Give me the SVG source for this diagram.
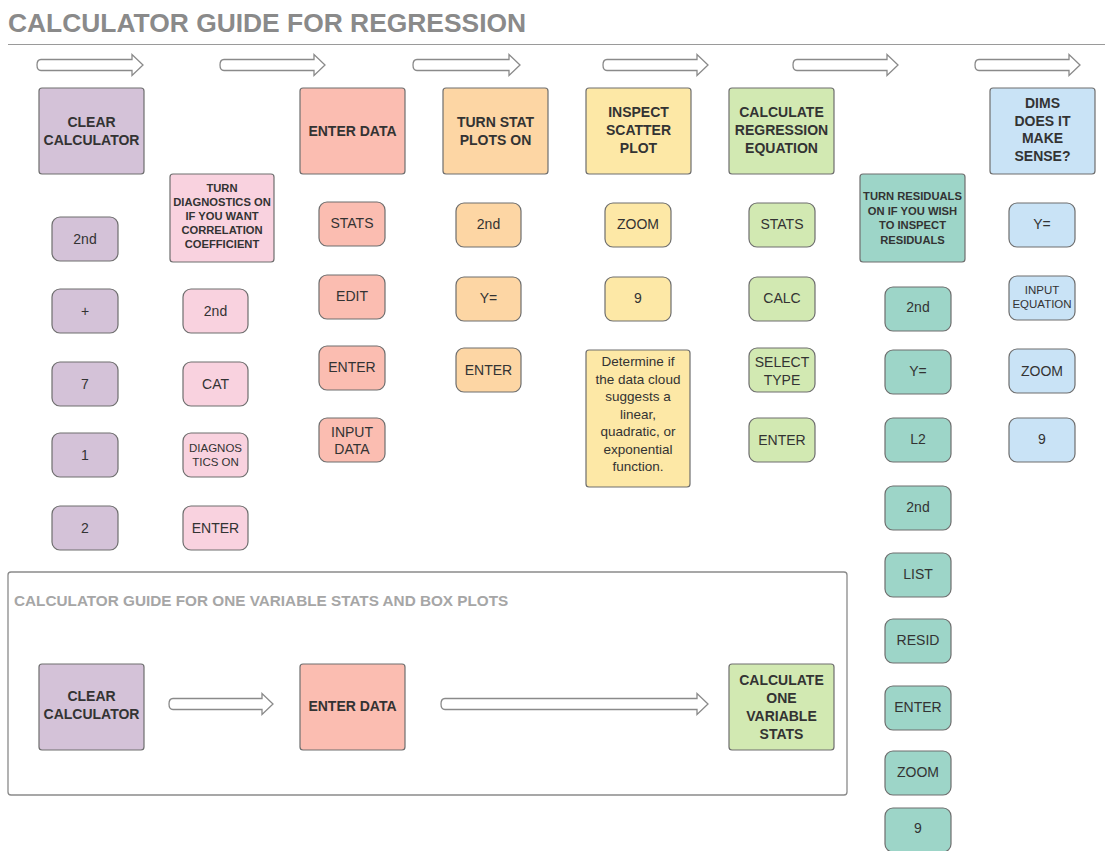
<svg xmlns="http://www.w3.org/2000/svg" width="1105" height="851" viewBox="0 0 1105 851">
<style>
text{font-family:"Liberation Sans",Arial,sans-serif;fill:#333;text-anchor:middle;dominant-baseline:central}
.h{font-weight:bold;font-size:14px}
.hs{font-weight:bold;font-size:11.2px}
.k{font-size:14px}
.ks{font-size:11.5px}
.d{font-size:13.5px}
.big{stroke:#6e6e6e;stroke-width:1.2}
.key{stroke:#6e6e6e;stroke-width:1.2}
.pu{fill:#d4c2d8}.sa{fill:#fbbdb1}.or{fill:#fdd6a4}.ye{fill:#fde8a6}.gr{fill:#d2e9b2}.bl{fill:#c9e3f6}.pi{fill:#f9d2df}.te{fill:#9dd5c8}
.arr{fill:#fff;stroke:#8a8a8a;stroke-width:1.3}
</style>
<defs>
<path id="ah" d="M0,-5.5 L-11,-5.5 L-11,-10.5 L0,0 L-11,10.5 L-11,5.5 L0,5.5"/>
</defs>
<text x="8" y="23" style="font-size:26.4px;font-weight:bold;fill:#8a8a8a;text-anchor:start">CALCULATOR GUIDE FOR REGRESSION</text>
<line x1="8" y1="44.5" x2="1105" y2="44.5" stroke="#9a9a9a" stroke-width="1.2"/>

<g id="connectors">
<path class="arr" d="M41,59.5 L132,59.5 L132,54.5 L143,65 L132,75.5 L132,70.5 L41,70.5 Q37,70.5 37,65 Q37,59.5 41,59.5 Z"/>
<path class="arr" d="M224,59.5 L314,59.5 L314,54.5 L325,65 L314,75.5 L314,70.5 L224,70.5 Q220,70.5 220,65 Q220,59.5 224,59.5 Z"/>
<path class="arr" d="M417,59.5 L509,59.5 L509,54.5 L520,65 L509,75.5 L509,70.5 L417,70.5 Q413,70.5 413,65 Q413,59.5 417,59.5 Z"/>
<path class="arr" d="M607,59.5 L697,59.5 L697,54.5 L708,65 L697,75.5 L697,70.5 L607,70.5 Q603,70.5 603,65 Q603,59.5 607,59.5 Z"/>
<path class="arr" d="M797,59.5 L887,59.5 L887,54.5 L898,65 L887,75.5 L887,70.5 L797,70.5 Q793,70.5 793,65 Q793,59.5 797,59.5 Z"/>
<path class="arr" d="M979,59.5 L1069,59.5 L1069,54.5 L1080,65 L1069,75.5 L1069,70.5 L979,70.5 Q975,70.5 975,65 Q975,59.5 979,59.5 Z"/>
<path class="arr" d="M173,698.5 L262,698.5 L262,693.5 L273,704 L262,714.5 L262,709.5 L173,709.5 Q169,709.5 169,704 Q169,698.5 173,698.5 Z"/>
<path class="arr" d="M445,698.5 L697,698.5 L697,693.5 L708,704 L697,714.5 L697,709.5 L445,709.5 Q441,709.5 441,704 Q441,698.5 445,698.5 Z"/>
</g>

<g id="n-clear"><rect class="big pu" x="39" y="88" width="105" height="86" rx="3"/><text class="h" x="91.5" y="122">CLEAR</text><text class="h" x="91.5" y="140">CALCULATOR</text></g>
<g id="n-enter"><rect class="big sa" x="300" y="88" width="105" height="86" rx="3"/><text class="h" x="352.5" y="131">ENTER DATA</text></g>
<g id="n-statplots"><rect class="big or" x="443" y="88" width="105" height="86" rx="3"/><text class="h" x="495.5" y="122">TURN STAT</text><text class="h" x="495.5" y="140">PLOTS ON</text></g>
<g id="n-scatter"><rect class="big ye" x="586" y="88" width="105" height="86" rx="3"/><text class="h" x="638.5" y="112">INSPECT</text><text class="h" x="638.5" y="130">SCATTER</text><text class="h" x="638.5" y="148">PLOT</text></g>
<g id="n-regeq"><rect class="big gr" x="729" y="88" width="105" height="86" rx="3"/><text class="h" x="781.5" y="112">CALCULATE</text><text class="h" x="781.5" y="130">REGRESSION</text><text class="h" x="781.5" y="148">EQUATION</text></g>
<g id="n-dims"><rect class="big bl" x="990" y="88" width="105" height="86" rx="3"/><text class="h" x="1042.5" y="103">DIMS</text><text class="h" x="1042.5" y="120.5">DOES IT</text><text class="h" x="1042.5" y="138">MAKE</text><text class="h" x="1042.5" y="155.5">SENSE?</text></g>
<g id="n-diag"><rect class="big pi" x="170" y="174" width="104" height="88" rx="3"/><text class="hs" x="222" y="188">TURN</text><text class="hs" x="222" y="202">DIAGNOSTICS ON</text><text class="hs" x="222" y="216">IF YOU WANT</text><text class="hs" x="222" y="230">CORRELATION</text><text class="hs" x="222" y="244">COEFFICIENT</text></g>
<g id="n-resid"><rect class="big te" x="860" y="174" width="105" height="88" rx="3"/><text class="hs" x="912.5" y="196">TURN RESIDUALS</text><text class="hs" x="912.5" y="210.5">ON IF YOU WISH</text><text class="hs" x="912.5" y="225">TO INSPECT</text><text class="hs" x="912.5" y="239.5">RESIDUALS</text></g>

<!-- column 1 -->
<g id="c1-2nd"><rect class="key pu" x="52" y="217" width="66" height="44" rx="8"/><text class="k" x="85" y="239">2nd</text></g>
<g id="c1-plus"><rect class="key pu" x="52" y="289" width="66" height="44" rx="8"/><text class="k" x="85" y="311">+</text></g>
<g id="c1-7"><rect class="key pu" x="52" y="362" width="66" height="44" rx="8"/><text class="k" x="85" y="384">7</text></g>
<g id="c1-1"><rect class="key pu" x="52" y="433" width="66" height="44" rx="8"/><text class="k" x="85" y="455">1</text></g>
<g id="c1-2"><rect class="key pu" x="52" y="506" width="66" height="44" rx="8"/><text class="k" x="85" y="528">2</text></g>
<!-- column 2 -->
<g id="c2-2nd"><rect class="key pi" x="183" y="289" width="65" height="44" rx="8"/><text class="k" x="215.5" y="311">2nd</text></g>
<g id="c2-cat"><rect class="key pi" x="183" y="362" width="65" height="44" rx="8"/><text class="k" x="215.5" y="384">CAT</text></g>
<g id="c2-diag"><rect class="key pi" x="183" y="433" width="65" height="44" rx="8"/><text class="ks" x="215.5" y="448">DIAGNOS</text><text class="ks" x="215.5" y="462">TICS ON</text></g>
<g id="c2-enter"><rect class="key pi" x="183" y="506" width="65" height="44" rx="8"/><text class="k" x="215.5" y="528">ENTER</text></g>
<!-- column 3 -->
<g id="c3-stats"><rect class="key sa" x="319" y="202" width="66" height="44" rx="8"/><text class="k" x="352" y="223">STATS</text></g>
<g id="c3-edit"><rect class="key sa" x="319" y="275" width="66" height="44" rx="8"/><text class="k" x="352" y="296">EDIT</text></g>
<g id="c3-enter"><rect class="key sa" x="319" y="346" width="66" height="44" rx="8"/><text class="k" x="352" y="367">ENTER</text></g>
<g id="c3-input"><rect class="key sa" x="319" y="418" width="66" height="44" rx="8"/><text class="k" x="352" y="432">INPUT</text><text class="k" x="352" y="449">DATA</text></g>
<!-- column 4 -->
<g id="c4-2nd"><rect class="key or" x="456" y="203" width="65" height="44" rx="8"/><text class="k" x="488.5" y="224">2nd</text></g>
<g id="c4-y"><rect class="key or" x="456" y="277" width="65" height="44" rx="8"/><text class="k" x="488.5" y="298">Y=</text></g>
<g id="c4-enter"><rect class="key or" x="456" y="348" width="65" height="44" rx="8"/><text class="k" x="488.5" y="370">ENTER</text></g>
<!-- column 5 -->
<g id="c5-zoom"><rect class="key ye" x="605" y="203" width="66" height="44" rx="8"/><text class="k" x="638" y="224">ZOOM</text></g>
<g id="c5-9"><rect class="key ye" x="605" y="277" width="66" height="44" rx="8"/><text class="k" x="638" y="298">9</text></g>
<g id="c5-det"><rect class="big ye" x="586" y="350" width="104" height="137" rx="3"/><text class="d" x="638" y="361.5">Determine if</text><text class="d" x="638" y="379">the data cloud</text><text class="d" x="638" y="396.5">suggests a</text><text class="d" x="638" y="414">linear,</text><text class="d" x="638" y="431.5">quadratic, or</text><text class="d" x="638" y="449">exponential</text><text class="d" x="638" y="466.5">function.</text></g>
<!-- column 6 -->
<g id="c6-stats"><rect class="key gr" x="749" y="203" width="66" height="44" rx="8"/><text class="k" x="782" y="224">STATS</text></g>
<g id="c6-calc"><rect class="key gr" x="749" y="277" width="66" height="44" rx="8"/><text class="k" x="782" y="298">CALC</text></g>
<g id="c6-select"><rect class="key gr" x="749" y="348" width="66" height="44" rx="8"/><text class="k" x="782" y="362">SELECT</text><text class="k" x="782" y="380">TYPE</text></g>
<g id="c6-enter"><rect class="key gr" x="749" y="418" width="66" height="44" rx="8"/><text class="k" x="782" y="440">ENTER</text></g>
<!-- column 7 -->
<g id="c7-2nd"><rect class="key te" x="885" y="287" width="66" height="44" rx="8"/><text class="k" x="918" y="307">2nd</text></g>
<g id="c7-y"><rect class="key te" x="885" y="350" width="66" height="44" rx="8"/><text class="k" x="918" y="371">Y=</text></g>
<g id="c7-l2"><rect class="key te" x="885" y="418" width="66" height="44" rx="8"/><text class="k" x="918" y="439">L2</text></g>
<g id="c7-2nd2"><rect class="key te" x="885" y="486" width="66" height="44" rx="8"/><text class="k" x="918" y="507">2nd</text></g>
<g id="c7-list"><rect class="key te" x="885" y="553" width="66" height="44" rx="8"/><text class="k" x="918" y="574">LIST</text></g>
<g id="c7-resid"><rect class="key te" x="885" y="619" width="66" height="44" rx="8"/><text class="k" x="918" y="640">RESID</text></g>
<g id="c7-enter"><rect class="key te" x="885" y="686" width="66" height="44" rx="8"/><text class="k" x="918" y="707">ENTER</text></g>
<g id="c7-zoom"><rect class="key te" x="885" y="751" width="66" height="44" rx="8"/><text class="k" x="918" y="772">ZOOM</text></g>
<g id="c7-9"><rect class="key te" x="885" y="808" width="66" height="44" rx="8"/><text class="k" x="918" y="828">9</text></g>
<!-- column 8 -->
<g id="c8-y"><rect class="key bl" x="1009" y="203" width="66" height="44" rx="8"/><text class="k" x="1042" y="224">Y=</text></g>
<g id="c8-input"><rect class="key bl" x="1009" y="276" width="66" height="44" rx="8"/><text class="ks" x="1042" y="290">INPUT</text><text class="ks" x="1042" y="304">EQUATION</text></g>
<g id="c8-zoom"><rect class="key bl" x="1009" y="349" width="66" height="44" rx="8"/><text class="k" x="1042" y="371">ZOOM</text></g>
<g id="c8-9"><rect class="key bl" x="1009" y="418" width="66" height="44" rx="8"/><text class="k" x="1042" y="439">9</text></g>

<!-- one variable panel -->
<g id="panel"><rect x="8" y="572" width="839" height="223" rx="3" fill="none" stroke="#8a8a8a" stroke-width="1.3"/><text x="14" y="600" style="font-size:15.3px;font-weight:bold;fill:#a6a6a6;text-anchor:start">CALCULATOR GUIDE FOR ONE VARIABLE STATS AND BOX PLOTS</text></g>
<g id="b-clear"><rect class="big pu" x="39" y="664" width="105" height="86" rx="3"/><text class="h" x="91.5" y="696">CLEAR</text><text class="h" x="91.5" y="714">CALCULATOR</text></g>
<g id="b-enter"><rect class="big sa" x="300" y="664" width="105" height="86" rx="3"/><text class="h" x="352.5" y="706">ENTER DATA</text></g>
<g id="b-calc"><rect class="big gr" x="729" y="664" width="105" height="86" rx="3"/><text class="h" x="781.5" y="680">CALCULATE</text><text class="h" x="781.5" y="698">ONE</text><text class="h" x="781.5" y="716">VARIABLE</text><text class="h" x="781.5" y="734">STATS</text></g>
</svg>
